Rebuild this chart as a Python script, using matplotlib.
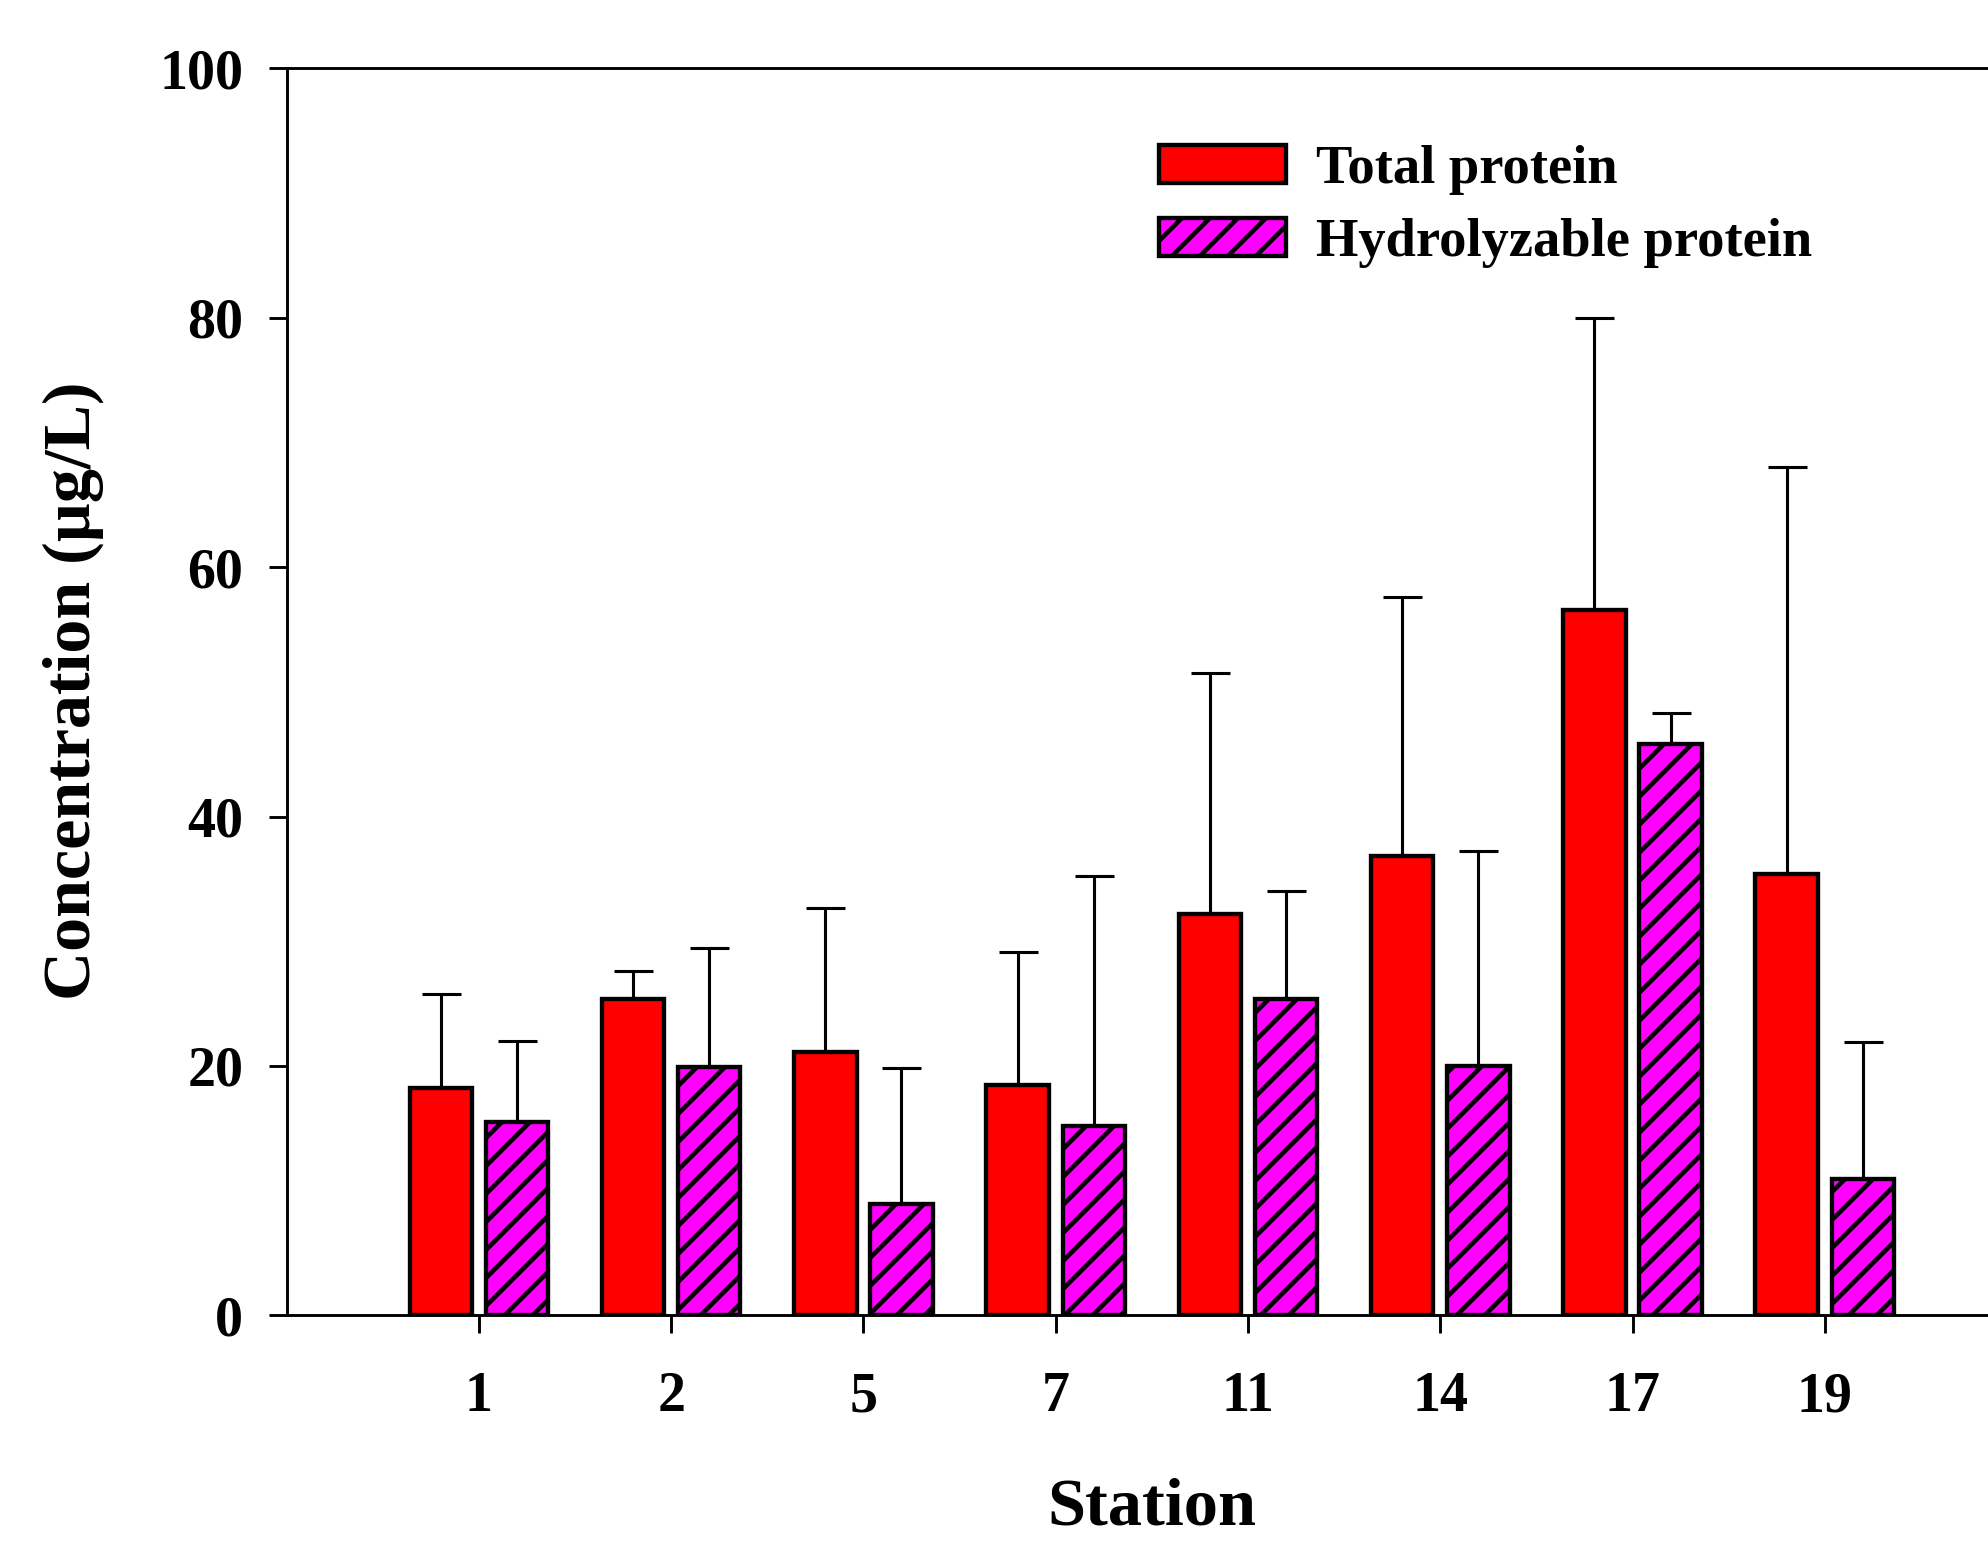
import numpy as np
import matplotlib
matplotlib.use("Agg")
import matplotlib.pyplot as plt

# station data (ug/L)
stations = ["1", "2", "5", "7", "11", "14", "17", "19"]
total = [18.2, 25.4, 21.1, 18.5, 32.2, 36.8, 56.6, 35.4]
total_err = [7.6, 2.2, 11.6, 10.6, 19.3, 20.8, 23.4, 32.6]
hydro = [15.5, 19.9, 8.9, 15.2, 25.4, 20.0, 45.8, 10.9]
hydro_err = [6.5, 9.6, 10.9, 20.0, 8.6, 17.2, 2.5, 11.0]

DPI = 168
S = 130.0 / DPI  # sizes below were tuned at 130 dpi
plt.rcParams['font.family'] = ['Liberation Serif', 'DejaVu Serif']
plt.rcParams['font.weight'] = 'bold'
plt.rcParams['hatch.linewidth'] = 2.5 * S
plt.rcParams['hatch.color'] = 'black'

fig = plt.figure(figsize=(1989/DPI, 1542/DPI), dpi=DPI)
# axes runs past the right edge of the figure, like the original
ax = fig.add_axes([0.1441, 0.147, 0.870, 0.8086])

x = np.arange(len(stations))
w = 0.325
off = 0.198

ax.bar(x - off, total, w, color='#ff0000', edgecolor='black', linewidth=2.4*S,
       label='Total protein', zorder=2)
ax.bar(x + off, hydro, w, color='#ff00ff', edgecolor='black', linewidth=2.4*S,
       hatch='//', label='Hydrolyzable protein', zorder=2)
ax.errorbar(x - off, total, yerr=[np.zeros(len(total)), total_err], fmt='none',
            ecolor='black', elinewidth=1.7*S, capsize=10.8*S, capthick=1.7*S, zorder=1)
ax.errorbar(x + off, hydro, yerr=[np.zeros(len(hydro)), hydro_err], fmt='none',
            ecolor='black', elinewidth=1.7*S, capsize=10.8*S, capthick=1.7*S, zorder=1)

ax.set_xlim(-1, 8)
ax.set_ylim(0, 100)
ax.set_yticks([0, 20, 40, 60, 80, 100])
ax.set_xticks(x)
ax.set_xticklabels(stations)

for s in ax.spines.values():
    s.set_linewidth(1.6*S)
ax.spines['right'].set_visible(False)

ax.tick_params(axis='y', direction='out', length=10*S, width=1.6*S, labelsize=31*S, pad=14*S)
ax.tick_params(axis='x', direction='out', length=10*S, width=1.6*S, labelsize=31*S, pad=21*S)
for lab in ax.get_xticklabels() + ax.get_yticklabels():
    lab.set_fontweight('bold')

fig.text(0.037, 0.552, 'Concentration (\u00b5g/L)', rotation=90, fontsize=37.6*S,
         fontweight='bold', ha='center', va='center')
fig.text(0.579, 0.0115, 'Station', fontsize=37.9*S, fontweight='bold',
         ha='center', va='baseline')

leg = ax.legend(loc='upper left', bbox_to_anchor=(0.5825, 0.906),
                bbox_transform=fig.transFigure, frameon=False, fontsize=30.2*S,
                handlelength=2.33, handleheight=0.69, handletextpad=0.56,
                labelspacing=0.42, borderpad=0, borderaxespad=0)
for t in leg.get_texts():
    t.set_fontweight('bold')

fig.savefig('out.png', dpi=DPI)
